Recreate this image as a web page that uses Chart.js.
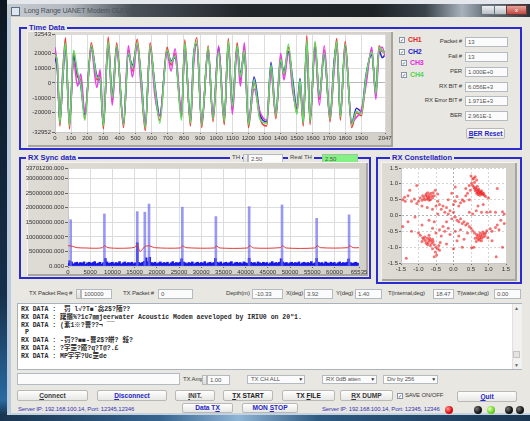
<!DOCTYPE html>
<html>
<head>
<meta charset="utf-8">
<script src="https://cdn.jsdelivr.net/npm/chart.js@4.4.1/dist/chart.umd.min.js"></script>
<style>
html,body{margin:0;padding:0;}
body{width:530px;height:421px;position:relative;overflow:hidden;background:#e9e7e2;font-family:"Liberation Sans",Arial,sans-serif;font-size:6px;color:#3a3a3a;}
.a{position:absolute;}
.grp{position:absolute;box-sizing:border-box;border:2px solid #2b2bd0;}
.glbl{position:absolute;background:#e9e7e2;color:#1f1fc0;font-weight:bold;font-size:7.5px;line-height:9px;padding:0 2px;white-space:nowrap;}
.panel{position:absolute;background:linear-gradient(90deg,#dedbd5,#d3d0ca);box-shadow:inset 1px 1px 0 #f5f4f1,inset -2px -2px 0 #a8a59f;}
.lbl{position:absolute;white-space:nowrap;line-height:9px;letter-spacing:-0.15px;}
.lbl.r{text-align:right;}
.fld{position:absolute;box-sizing:border-box;height:10px;background:#fbfbfb;border:1px solid #b3bac2;line-height:8px;padding-left:2px;white-space:nowrap;color:#555;font-size:6px;letter-spacing:-0.1px;}
.spin{position:absolute;box-sizing:border-box;width:5px;height:10px;background:linear-gradient(#f4f4f4,#dcdcdc);border:1px solid #b8b8b8;}
.btn{position:absolute;box-sizing:border-box;background:linear-gradient(#fefefe,#e7e7e5);border:1px solid #b8b8b6;border-radius:2px;font-weight:bold;font-size:6.6px;text-align:center;color:#3a3a3a;white-space:nowrap;}
.btn.b{color:#2626c4;}
.combo{position:absolute;box-sizing:border-box;height:9px;background:#fbfbfb;border:1px solid #b3bac2;line-height:7px;padding-left:3px;font-size:6px;white-space:nowrap;color:#555;letter-spacing:-0.1px;}
.combo:after{content:"\25BC";position:absolute;right:1px;top:0;font-size:5px;color:#333;}
.chk{position:absolute;box-sizing:border-box;width:6px;height:6px;background:#fff;border:1px solid #8595a5;font-size:5px;line-height:4px;text-align:center;color:#2a3a6a;}
.led{position:absolute;width:8px;height:8px;border-radius:50%;}
u{text-decoration:underline;}
#rxText{position:absolute;left:17px;top:303px;width:505px;height:67px;box-sizing:border-box;background:#fff;border:1px solid #aab3bd;padding:2px 0 0 3px;font-family:"Liberation Mono","Noto Sans CJK SC",monospace;font-weight:bold;font-size:6.5px;line-height:7.8px;white-space:pre;color:#2a2a2a;overflow:hidden;}
canvas{position:absolute;}
</style>
</head>
<body>
<!-- desktop edges and window chrome -->
<div class="a" style="left:0;top:0;width:530px;height:4px;background:#e4e8ec"></div>
<div class="a" style="left:0;top:0;width:7px;height:421px;background:linear-gradient(#0d1722,#16304a 70%,#2a6aa0 95%,#102030)"></div>
<div class="a" style="left:7px;top:4px;width:4px;height:411px;background:#b9cbdc"></div>
<div class="a" style="left:7px;top:4px;width:523px;height:13px;background:linear-gradient(90deg,#c6cbd0 0%,#b3b9bf 12%,#4a5259 24%,#22272c 45%,#1d2226 70%,#3a434b 80%,#a7b2bc 87%,#6d7882 91%,#2c3339 100%)"></div>
<div class="a" style="left:11px;top:7px;width:7px;height:7px;background:#dfe6ee;border:1px solid #5a6f86"></div>
<div class="lbl" style="left:24px;top:6px;color:#4b5259;font-size:7px">Long Range UANET Modem GUI V2.0</div>
<div class="a" style="left:481px;top:5px;width:12px;height:8px;background:linear-gradient(#eef0f2,#b9bfc5);border:1px solid #6b737b"></div>
<div class="a" style="left:494px;top:5px;width:11px;height:8px;background:linear-gradient(#eef0f2,#b9bfc5);border:1px solid #6b737b"></div>
<div class="a" style="left:506px;top:5px;width:19px;height:8px;background:linear-gradient(#e6a39c,#c2493e);border:1px solid #6b3a36;color:#fff;font-size:6px;line-height:8px;text-align:center">x</div>
<div class="a" style="left:7px;top:413px;width:523px;height:2px;background:#c4d2df"></div>
<div class="a" style="left:0;top:415px;width:530px;height:6px;background:linear-gradient(90deg,#1a3550,#35648f 30%,#8fb4d4 45%,#2e5a82 60%,#1b3652)"></div>

<!-- Time Data group -->
<div class="grp" style="left:19px;top:27px;width:503px;height:123px"></div>
<div class="glbl" style="left:27px;top:23px">Time Data</div>
<div class="panel" style="left:27px;top:31px;width:366px;height:116px"></div>
<canvas id="timeChart" width="375" height="118" style="left:20px;top:30px;width:375px;height:118px"></canvas>

<div class="chk" style="left:399px;top:37px">&#10003;</div><div class="lbl" style="left:408px;top:35px;color:#e42a2a;font-weight:bold;font-size:7px">CH1</div>
<div class="chk" style="left:399px;top:49px">&#10003;</div><div class="lbl" style="left:408px;top:47px;color:#2424cc;font-weight:bold;font-size:7px">CH2</div>
<div class="chk" style="left:401px;top:60px">&#10003;</div><div class="lbl" style="left:410px;top:58px;color:#e22ae2;font-weight:bold;font-size:7px">CH3</div>
<div class="chk" style="left:401px;top:72px">&#10003;</div><div class="lbl" style="left:410px;top:70px;color:#52d452;font-weight:bold;font-size:7px">CH4</div>

<div class="lbl r" style="left:420px;width:42px;top:37px">Packet #</div><div class="fld" style="left:465px;top:37px;width:43px">13</div>
<div class="lbl r" style="left:420px;width:42px;top:52px">Fail #</div><div class="fld" style="left:465px;top:52px;width:43px">13</div>
<div class="lbl r" style="left:420px;width:42px;top:67px">PER</div><div class="fld" style="left:465px;top:67px;width:43px">1.000E+0</div>
<div class="lbl r" style="left:420px;width:42px;top:82px">RX BIT #</div><div class="fld" style="left:465px;top:82px;width:43px">6.056E+3</div>
<div class="lbl r" style="left:410px;width:52px;top:96px">RX Error BIT #</div><div class="fld" style="left:465px;top:96px;width:43px">1.971E+3</div>
<div class="lbl r" style="left:420px;width:42px;top:111px">BER</div><div class="fld" style="left:465px;top:111px;width:43px">2.961E-1</div>
<div class="btn b" style="left:466px;top:128px;width:39px;height:11px;line-height:9px"><u>B</u>ER Reset</div>

<!-- RX Sync data group -->
<div class="grp" style="left:19px;top:157px;width:352px;height:122px"></div>
<div class="glbl" style="left:26px;top:153px">RX Sync data</div>
<div class="glbl" style="left:230px;top:153px;color:#444;font-weight:normal;font-size:6px">TH</div>
<div class="spin" style="left:243px;top:154px"></div>
<div class="fld" style="left:248px;top:154px;width:35px">2.50</div>
<div class="glbl" style="left:288px;top:153px;color:#444;font-weight:normal;font-size:6px">Real TH</div>
<div class="fld" style="left:322px;top:154px;width:36px;background:#84f184;border-color:#9bc59b">2.50</div>
<div class="panel" style="left:27px;top:162px;width:341px;height:114px"></div>
<canvas id="syncChart" width="350" height="118" style="left:20px;top:160px;width:350px;height:118px"></canvas>

<!-- RX Constellation group -->
<div class="grp" style="left:376px;top:157px;width:146px;height:127px"></div>
<div class="glbl" style="left:390px;top:153px">RX Constellation</div>
<div class="panel" style="left:381px;top:162px;width:136px;height:119px"></div>
<canvas id="constChart" width="142" height="117" style="left:378px;top:160px;width:142px;height:117px"></canvas>

<!-- status row -->
<div class="lbl" style="left:29px;top:289px">TX Packet Req #</div>
<div class="spin" style="left:76px;top:289px"></div>
<div class="fld" style="left:81px;top:289px;width:31px">100000</div>
<div class="lbl" style="left:123px;top:289px">TX Packet #</div>
<div class="fld" style="left:158px;top:289px;width:35px">0</div>
<div class="lbl" style="left:226px;top:289px">Depth(m)</div>
<div class="fld" style="left:252px;top:289px;width:31px">-10.33</div>
<div class="lbl" style="left:286px;top:289px">X(deg)</div>
<div class="fld" style="left:304px;top:289px;width:29px">3.92</div>
<div class="lbl" style="left:336px;top:289px">Y(deg)</div>
<div class="fld" style="left:355px;top:289px;width:27px">1.40</div>
<div class="lbl" style="left:388px;top:289px">T(internal,deg)</div>
<div class="fld" style="left:433px;top:289px;width:21px">18.47</div>
<div class="lbl" style="left:457px;top:289px">T(water,deg)</div>
<div class="fld" style="left:494px;top:289px;width:27px">0.00</div>

<div id="rxText">RX DATA :  罚 l√?T■ˇ惢2$?陑??
RX DATA : 躇擓%?1c7㎜jeerwater Acoustic Modem aeveloped by IRIU0 on 20"1.
RX DATA : (紊1※?罾??¬ ¯¯
 P
RX DATA : -罚??■■-罾2$?皏? 敍?
RX DATA : ?宇罡?魇?q?T@?.£
RX DATA : MP宇宇?Uc罡de</div>
<div class="a" style="left:512px;top:304px;width:9px;height:65px;background:#f1f1f1;border-left:1px solid #e0e0e0"></div>
<div class="lbl" style="left:514px;top:304px;font-size:5px;color:#666">&#9650;</div>
<div class="a" style="left:513px;top:351px;width:7px;height:7px;background:#e4e4e4;border:1px solid #c4c4c4;box-sizing:border-box"></div>
<div class="lbl" style="left:514px;top:361px;font-size:5px;color:#666">&#9660;</div>

<!-- controls -->
<div class="fld" style="left:17px;top:373px;width:163px;height:12px"></div>
<div class="lbl" style="left:183px;top:375px">TX Amp</div>
<div class="spin" style="left:202px;top:375px"></div>
<div class="fld" style="left:207px;top:375px;width:23px">1.00</div>
<div class="combo" style="left:247px;top:375px;width:58px">TX CH ALL</div>
<div class="combo" style="left:322px;top:375px;width:55px">RX 0dB atten</div>
<div class="combo" style="left:383px;top:375px;width:55px">Div by 256</div>

<div class="btn" style="left:17px;top:390px;width:71px;height:11px;line-height:9px"><u>C</u>onnect</div>
<div class="btn b" style="left:97px;top:390px;width:70px;height:11px;line-height:9px"><u>D</u>isconnect</div>
<div class="btn" style="left:175px;top:390px;width:40px;height:11px;line-height:9px"><u>I</u>NIT.</div>
<div class="btn" style="left:223px;top:390px;width:50px;height:11px;line-height:9px;color:#222"><u>T</u>X START</div>
<div class="btn" style="left:282px;top:390px;width:53px;height:11px;line-height:9px;color:#222">TX <u>F</u>ILE</div>
<div class="btn" style="left:340px;top:390px;width:53px;height:11px;line-height:9px"><u>R</u>X DUMP</div>
<div class="chk" style="left:397px;top:393px">&#10003;</div>
<div class="lbl" style="left:405px;top:391px">SAVE ON/OFF</div>
<div class="btn b" style="left:457px;top:391px;width:60px;height:11px;line-height:9px"><u>Q</u>uit</div>

<div class="lbl" style="left:18px;top:405px;color:#3434b4">Server IP: 192.168.100.14, Port: 12345,12346</div>
<div class="btn b" style="left:182px;top:403px;width:51px;height:10px;line-height:8px">Data T<u>X</u></div>
<div class="btn b" style="left:242px;top:403px;width:56px;height:10px;line-height:8px">MON <u>S</u>TOP</div>
<div class="lbl" style="left:322px;top:405px;color:#3434b4">Server IP: 192.168.100.14, Port: 12345, 12346</div>
<div class="led" style="left:445px;top:406px;background:radial-gradient(circle at 35% 35%,#ff9a9a,#e01010 55%,#901010)"></div>
<div class="led" style="left:474px;top:406px;background:radial-gradient(circle at 35% 35%,#777,#111 60%)"></div>
<div class="led" style="left:487px;top:406px;background:radial-gradient(circle at 35% 35%,#e8ffc0,#6ad826 55%,#3a9a10)"></div>
<div class="led" style="left:505px;top:406px;background:radial-gradient(circle at 35% 35%,#777,#111 60%)"></div>
<div class="led" style="left:516px;top:406px;background:radial-gradient(circle at 35% 35%,#777,#111 60%)"></div>

<script>
// ---------- Time Data: four received channels (sample index, amplitude) ----------
const timeIdx = [0, 15, 30, 48, 65, 90, 115, 140, 160, 185,
  225, 260, 280, 300, 330, 355, 383, 425, 455, 480,
  510, 535, 560, 590, 620, 650, 695, 720, 745, 785,
  805, 840, 860, 880, 910, 950, 980, 1015, 1050, 1075,
  1100, 1130, 1150, 1175, 1200, 1235, 1270, 1313, 1340, 1370,
  1400, 1420, 1448, 1475, 1500, 1520, 1540, 1562, 1582, 1613,
  1640, 1670, 1706, 1730, 1748, 1770, 1800, 1840, 1870, 1900,
  1930, 1965, 1990, 2010, 2030, 2047];
const ch1 = [20000, 12000, -29000, 5000, 30500, -31000, 21000, 4000, 2000, -24000,
  27000, 2000, 6000, -31000, 31000, -12000, 27000, -30000, 22000, 8000,
  29500, 0, -32000, 27000, -5000, -25000, 24000, 12000, 20000, -24000,
  29000, -29000, 16000, 30500, -30000, 25000, -26000, 22000, -28000, 30000,
  -18000, 27000, 2000, 24000, -30000, 0, -23000, -29000, 10000, -24000,
  17000, 5000, 24000, -3000, -20000, 0, -29000, 32000, -28000, 27000,
  -11000, 22000, -26000, 10000, 30000, -25000, 28000, -30000, -20000, -22000,
  3000, 22000, -8000, 25000, 21000, 21000];
const ch2 = [17000, 8000, -26000, 2000, 24000, -27000, 18000, 6000, -2000, -21000,
  24000, 5000, 2000, -28000, 26000, -8000, 24000, -27000, 19000, 12000,
  25000, 3000, -28000, 23000, -2000, -22000, 21000, 15000, 17000, -21000,
  25000, -26000, 19000, 26000, -27000, 22000, -23000, 24000, -25000, 26000,
  -14000, 24000, 6000, 20000, -27000, 4000, -20000, -26000, 14000, -21000,
  14000, 8000, 21000, 2000, -17000, 3000, -26000, 27000, -25000, 24000,
  -8000, 19000, -23000, 13000, 26000, -22000, 25000, -27000, -17000, -19000,
  6000, 19000, -5000, 22000, 17000, 19000];
const ch3 = [24000, 10000, -25000, 8000, 26000, -28000, 15000, -2000, 6000, -20000,
  22000, -3000, 9000, -27000, 27000, -15000, 22000, -26000, 25000, 4000,
  25000, -4000, -29000, 24000, -9000, -22000, 20000, 8000, 23000, -20000,
  25000, -25000, 12000, 26000, -26000, 21000, -22000, 25000, -24000, 25000,
  -21000, 22000, -2000, 27000, -26000, -4000, -19000, -25000, 6000, -21000,
  20000, 2000, 20000, -6000, -16000, -3000, -25000, 27000, -24000, 22000,
  -15000, 25000, -22000, 6000, 25000, -21000, 23000, -26000, -23000, -18000,
  -1000, 24000, -11000, 21000, 24000, 18000];
const ch4 = [19000, 14000, -27000, 3000, 27000, -29000, 22000, 7000, -1000, -25000,
  25000, 4000, 3000, -29000, 28000, -10000, 25000, -28000, 20000, 10000,
  27000, 2000, -30000, 25000, -3000, -27000, 22000, 14000, 18000, -25000,
  27000, -27000, 18000, 28000, -28000, 24000, -24000, 21000, -26000, 28000,
  -16000, 25000, 4000, 22000, -28000, 2000, -24000, -27000, 12000, -22000,
  16000, 6000, 26000, -1000, -21000, 2000, -27000, 29000, -26000, 28000,
  -9000, 20000, -24000, 11000, 28000, -23000, 26000, -28000, -19000, -21000,
  5000, 21000, -7000, 24000, 22000, 20000];
const timeXTicks = [0, 100, 200, 300, 400, 500, 600, 700, 800, 900, 1000, 1100, 1200, 1300, 1400, 1500, 1600, 1700, 1800, 1900, 2047];
const timeYTicks = [32543, 20000, 10000, 0, -10000, -20000, -32952];

// ---------- RX Sync data: correlation output, sync peaks and threshold ----------
const syncNoiseStep = 400;
const syncNoise = [900000, 1800000, 1400000, 700000, 1100000, 1300000, 800000, 1200000, 1000000, 1400000,
  600000, 1100000, 1300000, 900000, 1200000, 1500000, 800000, 1000000, 1300000, 700000,
  1200000, 2600000, 1400000, 900000, 1100000, 1300000, 800000, 1200000, 1000000, 1500000,
  700000, 1100000, 1400000, 900000, 1200000, 1000000, 1300000, 800000, 1100000, 8000000,
  1200000, 900000, 1300000, 1600000, 2800000, 1500000, 3000000, 1200000, 1000000, 1300000,
  800000, 1100000, 1400000, 900000, 1200000, 1000000, 1300000, 700000, 1100000, 1500000,
  900000, 1200000, 1000000, 1300000, 2500000, 1400000, 1100000, 800000, 1200000, 1000000,
  1400000, 700000, 1100000, 1300000, 900000, 1200000, 1000000, 1500000, 800000, 1100000,
  1300000, 900000, 1200000, 2600000, 1300000, 1000000, 1400000, 800000, 1100000, 1300000,
  900000, 1200000, 1500000, 700000, 1100000, 1300000, 1000000, 1200000, 800000, 1400000,
  1100000, 900000, 2700000, 1300000, 1000000, 1200000, 800000, 1400000, 1100000, 900000,
  1300000, 1000000, 1200000, 700000, 1100000, 1500000, 900000, 1200000, 1000000, 1300000,
  2500000, 1400000, 1000000, 1200000, 800000, 1100000, 1300000, 900000, 1200000, 1000000,
  1400000, 700000, 1100000, 1300000, 900000, 1200000, 1000000, 1500000, 800000, 1100000,
  2600000, 1300000, 1000000, 1200000, 800000, 1400000, 1100000, 900000, 1300000, 1000000,
  1200000, 700000, 1100000, 1400000, 900000, 1200000, 1000000, 1300000, 2400000, 1200000,
  900000, 1100000, 1300000, 1000000];
const syncPeakPos = [600, 8200, 15600, 17300, 18250, 25750, 33300, 40800, 48200, 56000, 63300];
const syncPeakVal = [15900000, 17900000, 18700000, 18500000, 21300000, 20200000, 17000000, 20400000, 21000000, 16400000, 17600000];
const syncThrPos = [0, 1000, 2000, 4000, 6000, 7800, 8200, 9000, 12000, 15000, 15600, 16200, 17000, 17400, 18400, 19500,
  25300, 25800, 26600, 33000, 33400, 34200, 40400, 40900, 41800, 47800, 48300, 49100, 55600, 56100, 56900, 63000, 63400, 64200, 65535];
const syncThrVal = [7000000, 6800000, 6300000, 6200000, 6100000, 6300000, 7000000, 6300000, 6100000, 6400000, 7300000, 5000000, 6200000, 6800000, 6900000, 6300000,
  6200000, 6900000, 6300000, 6200000, 6900000, 6200000, 6200000, 7000000, 6200000, 6300000, 7000000, 6200000, 6200000, 7000000, 6300000, 6300000, 7000000, 6300000, 6300000];
const syncXTicks = [0, 5000, 10000, 15000, 20000, 25000, 30000, 35000, 40000, 45000, 50000, 55000, 60000, 65535];
const syncYTicks = [0, 5000000, 10000000, 15000000, 20000000, 25000000, 30000000, 33701200];

// ---------- RX Constellation: received symbols (I, Q) ----------
const constI = [0.62,0.65,0.68,0.70,0.72,0.74,0.76,0.78,0.80,0.82,0.84,0.86,0.66,0.70,0.60,0.58,0.64,0.75,0.88,0.72,0.55,0.60,0.58,0.62,0.55,0.66,0.52,0.45,0.48,0.40,0.92,0.80,0.68,0.50,0.35,
  -0.70,-0.75,-0.80,-0.72,-0.68,-0.78,-0.85,-0.82,-0.65,-0.62,-0.74,-0.88,-0.90,-0.60,-0.70,-0.76,-0.66,-0.55,-0.58,-0.95,-1.00,-1.05,-1.12,-1.20,-1.40,-1.45,-1.38,-1.30,-0.52,-0.45,
  -0.70,-0.75,-0.80,-0.72,-0.65,-0.68,-0.78,-0.85,-0.62,-0.58,-0.74,-0.88,-0.60,-0.55,-0.66,-0.82,-0.90,-0.50,-0.45,-0.52,-0.48,-0.55,-0.40,-0.60,-0.95,-1.00,-0.42,-0.38,-0.70,-1.35,
  0.78,0.82,0.75,0.72,0.85,0.80,0.70,0.88,0.76,0.68,0.90,0.84,0.74,0.66,0.62,0.92,0.80,0.60,0.95,1.05,1.10,1.20,1.30,0.55,0.50,0.98,0.65,0.58,0.52,1.22,
  -0.40,-0.30,-0.35,-0.20,-0.25,-0.10,-0.15,0.00,0.05,-0.05,0.10,0.15,0.20,0.25,0.30,0.35,0.40,0.45,-0.45,-0.50,0.20,0.25,0.10,0.05,0.15,0.30,-0.05,0.00,-0.20,-0.30,
  -0.25,-0.40,-0.15,-0.10,0.05,0.15,0.10,0.20,-0.35,-0.50,-0.60,-0.45,-0.60,-0.75,-0.90,0.45,0.55,0.65,0.80,0.95,1.05,1.20,1.40,1.45,0.70,0.85,1.00,1.25,0.40,0.30,
  0.05,-0.15,0.35,-1.45,-1.30,-1.10,-1.20,-0.90,-0.70,-0.55,1.45,1.35,1.25,1.40,1.10,-1.05,-1.25,0.00,0.25,-0.20,0.45];
const constQ = [0.78,0.82,0.75,0.80,0.72,0.77,0.70,0.74,0.68,0.72,0.66,0.70,0.70,0.66,0.85,0.90,0.88,0.64,0.64,0.84,0.95,1.05,1.18,1.22,1.15,1.12,1.02,0.95,0.80,0.70,0.60,0.78,0.92,1.25,0.62,
  0.65,0.60,0.62,0.55,0.58,0.68,0.55,0.50,0.70,0.62,0.72,0.62,0.48,0.55,0.48,0.52,0.50,0.62,0.72,0.55,0.45,0.38,0.52,0.45,0.58,0.50,0.45,0.62,0.80,0.68,
  -0.78,-0.72,-0.80,-0.85,-0.80,-0.72,-0.88,-0.75,-0.88,-0.82,-0.92,-0.70,-0.75,-0.92,-0.95,-0.68,-0.82,-1.00,-1.05,-1.15,-1.25,-1.30,-1.10,-1.05,-0.62,-0.55,-0.95,-0.85,-0.62,-1.35,
  -0.65,-0.60,-0.70,-0.62,-0.68,-0.72,-0.75,-0.58,-0.55,-0.68,-0.65,-0.52,-0.78,-0.60,-0.72,-0.55,-0.80,-0.55,-0.48,-0.42,-0.50,-0.38,-0.45,-0.48,-0.40,-0.70,-0.82,-1.00,-1.02,-1.30,
  0.35,0.30,0.20,0.25,0.10,0.15,0.05,0.10,-0.05,-0.10,-0.15,-0.20,-0.10,-0.25,-0.20,-0.30,-0.25,-0.35,0.45,0.30,0.40,0.50,0.60,0.45,0.30,0.45,0.70,0.35,-0.20,-0.35,
  -0.50,-0.45,-0.40,-0.60,-0.50,-0.65,-0.80,-0.45,-0.65,-0.55,-0.40,0.05,0.20,0.25,0.30,0.10,0.05,0.15,0.10,0.10,0.12,0.10,0.12,0.05,0.30,0.35,0.55,0.85,-0.55,-0.75,
  0.90,0.50,0.85,-0.35,-0.20,-0.05,-0.50,-0.30,-0.15,-0.20,-0.25,-0.15,-0.30,-1.00,-0.80,0.95,0.80,-1.05,-1.00,-0.90,0.50];
const constTicks = [-1.5, -1.0, -0.5, 0.0, 0.5, 1.0, 1.5];

// ---------- shared helpers ----------
const tickFont = { family: 'Liberation Sans', size: 6 };
const plotBg = {
  id: 'plotBg',
  beforeDraw(chart) {
    const a = chart.chartArea, ctx = chart.ctx;
    ctx.save();
    ctx.fillStyle = '#ffffff';
    ctx.fillRect(a.left, a.top, a.right - a.left, a.bottom - a.top);
    ctx.restore();
  }
};
const useTicks = list => scale => { scale.ticks = list.map(v => ({ value: v })); };
const base = {
  animation: false, responsive: false, devicePixelRatio: 1,
  plugins: { legend: { display: false }, tooltip: { enabled: false } }
};

// ---------- Time Data chart ----------
// channel traces; the first dataset in the list is painted last (on top)
const channels = [
  { vals: ch4, color: '#5fdf5f' },
  { vals: ch3, color: '#e63fe6' },
  { vals: ch2, color: '#2b2bc6' },
  { vals: ch1, color: '#ee3b3b' }
];
new Chart(document.getElementById('timeChart'), {
  type: 'line',
  data: {
    datasets: channels.map(ch => ({
      data: timeIdx.map((t, i) => ({ x: t, y: ch.vals[i] })),
      borderColor: ch.color, borderWidth: 1.5, pointRadius: 0,
      cubicInterpolationMode: 'monotone', fill: false
    }))
  },
  options: Object.assign({}, base, {
    layout: { padding: { top: 4, right: 10, left: 0, bottom: 0 } },
    scales: {
      x: {
        type: 'linear', min: 0, max: 2047,
        afterBuildTicks: useTicks(timeXTicks),
        afterFit: s => { s.height = 16; },
        ticks: { autoSkip: false, maxRotation: 0, font: tickFont, color: '#333', padding: 1, callback: v => String(v) },
        grid: { color: '#dcdcdc', tickLength: 2, tickColor: '#666' },
        border: { color: '#c8c8c8' }
      },
      y: {
        type: 'linear', min: -32952, max: 32543,
        afterBuildTicks: useTicks(timeYTicks),
        afterFit: s => { s.width = 35; },
        ticks: { autoSkip: false, font: tickFont, color: '#333', padding: 1, callback: v => String(v) },
        grid: { color: c => (c.tick && c.tick.value === 0) ? '#b8b8b8' : '#dcdcdc', tickLength: 3, tickColor: '#666' },
        border: { color: '#c8c8c8' }
      }
    }
  }),
  plugins: [plotBg]
});

// ---------- RX Sync data chart ----------
new Chart(document.getElementById('syncChart'), {
  type: 'bar',
  data: {
    datasets: [
      {
        type: 'line', order: 0,
        data: syncThrPos.map((x, i) => ({ x: x, y: syncThrVal[i] })),
        borderColor: '#e23a3a', borderWidth: 1, pointRadius: 0, tension: 0.3, fill: false
      },
      {
        type: 'bar', order: 1, grouped: false,
        data: syncPeakPos.map((x, i) => ({ x: x, y: syncPeakVal[i] })),
        backgroundColor: 'rgba(110,110,236,0.7)', barThickness: 2, borderWidth: 0
      },
      {
        type: 'bar', order: 2, grouped: false,
        data: syncNoise.map((v, i) => ({ x: i * syncNoiseStep, y: v })),
        backgroundColor: '#1717e4', barThickness: 2, borderWidth: 0
      }
    ]
  },
  options: Object.assign({}, base, {
    layout: { padding: { top: 8, right: 11, left: 0, bottom: 0 } },
    scales: {
      x: {
        type: 'linear', min: 0, max: 65535, offset: false,
        afterBuildTicks: useTicks(syncXTicks),
        afterFit: s => { s.height = 12; },
        ticks: { autoSkip: false, maxRotation: 0, font: tickFont, color: '#333', padding: 1, callback: v => String(v) },
        grid: { color: '#dcdcdc', tickLength: 2, tickColor: '#666', offset: false },
        border: { color: '#c8c8c8' }
      },
      y: {
        type: 'linear', min: 0, max: 33701200,
        afterBuildTicks: useTicks(syncYTicks),
        afterFit: s => { s.width = 48; },
        ticks: { autoSkip: false, font: tickFont, color: '#333', padding: 1, callback: v => Number(v).toFixed(3) },
        grid: { color: '#dcdcdc', tickLength: 3, tickColor: '#666' },
        border: { color: '#c8c8c8' }
      }
    }
  }),
  plugins: [plotBg]
});

// ---------- RX Constellation chart ----------
new Chart(document.getElementById('constChart'), {
  type: 'scatter',
  data: {
    datasets: [{
      data: constI.map((x, i) => ({ x: x, y: constQ[i] })),
      backgroundColor: 'rgba(236,24,24,0.6)', borderWidth: 0, pointRadius: 1.5
    }]
  },
  options: Object.assign({}, base, {
    layout: { padding: { top: 8, right: 14, left: 0, bottom: 0 } },
    scales: {
      x: {
        type: 'linear', min: -1.5, max: 1.5,
        afterBuildTicks: useTicks(constTicks),
        afterFit: s => { s.height = 14; },
        ticks: { autoSkip: false, maxRotation: 0, font: tickFont, color: '#333', padding: 1, callback: v => Number(v).toFixed(1) },
        grid: { color: c => (c.tick && c.tick.value === 0) ? '#b0b0b0' : '#d4d4d4', tickLength: 2, tickColor: '#666' },
        border: { color: '#c8c8c8', dash: [2, 2] }
      },
      y: {
        type: 'linear', min: -1.5, max: 1.5,
        afterBuildTicks: useTicks(constTicks),
        afterFit: s => { s.width = 23; },
        ticks: { autoSkip: false, font: tickFont, color: '#333', padding: 1, callback: v => Number(v).toFixed(1) },
        grid: { color: c => (c.tick && c.tick.value === 0) ? '#b0b0b0' : '#d4d4d4', tickLength: 2, tickColor: '#666' },
        border: { color: '#c8c8c8', dash: [2, 2] }
      }
    }
  }),
  plugins: [plotBg]
});
</script>
</body>
</html>
